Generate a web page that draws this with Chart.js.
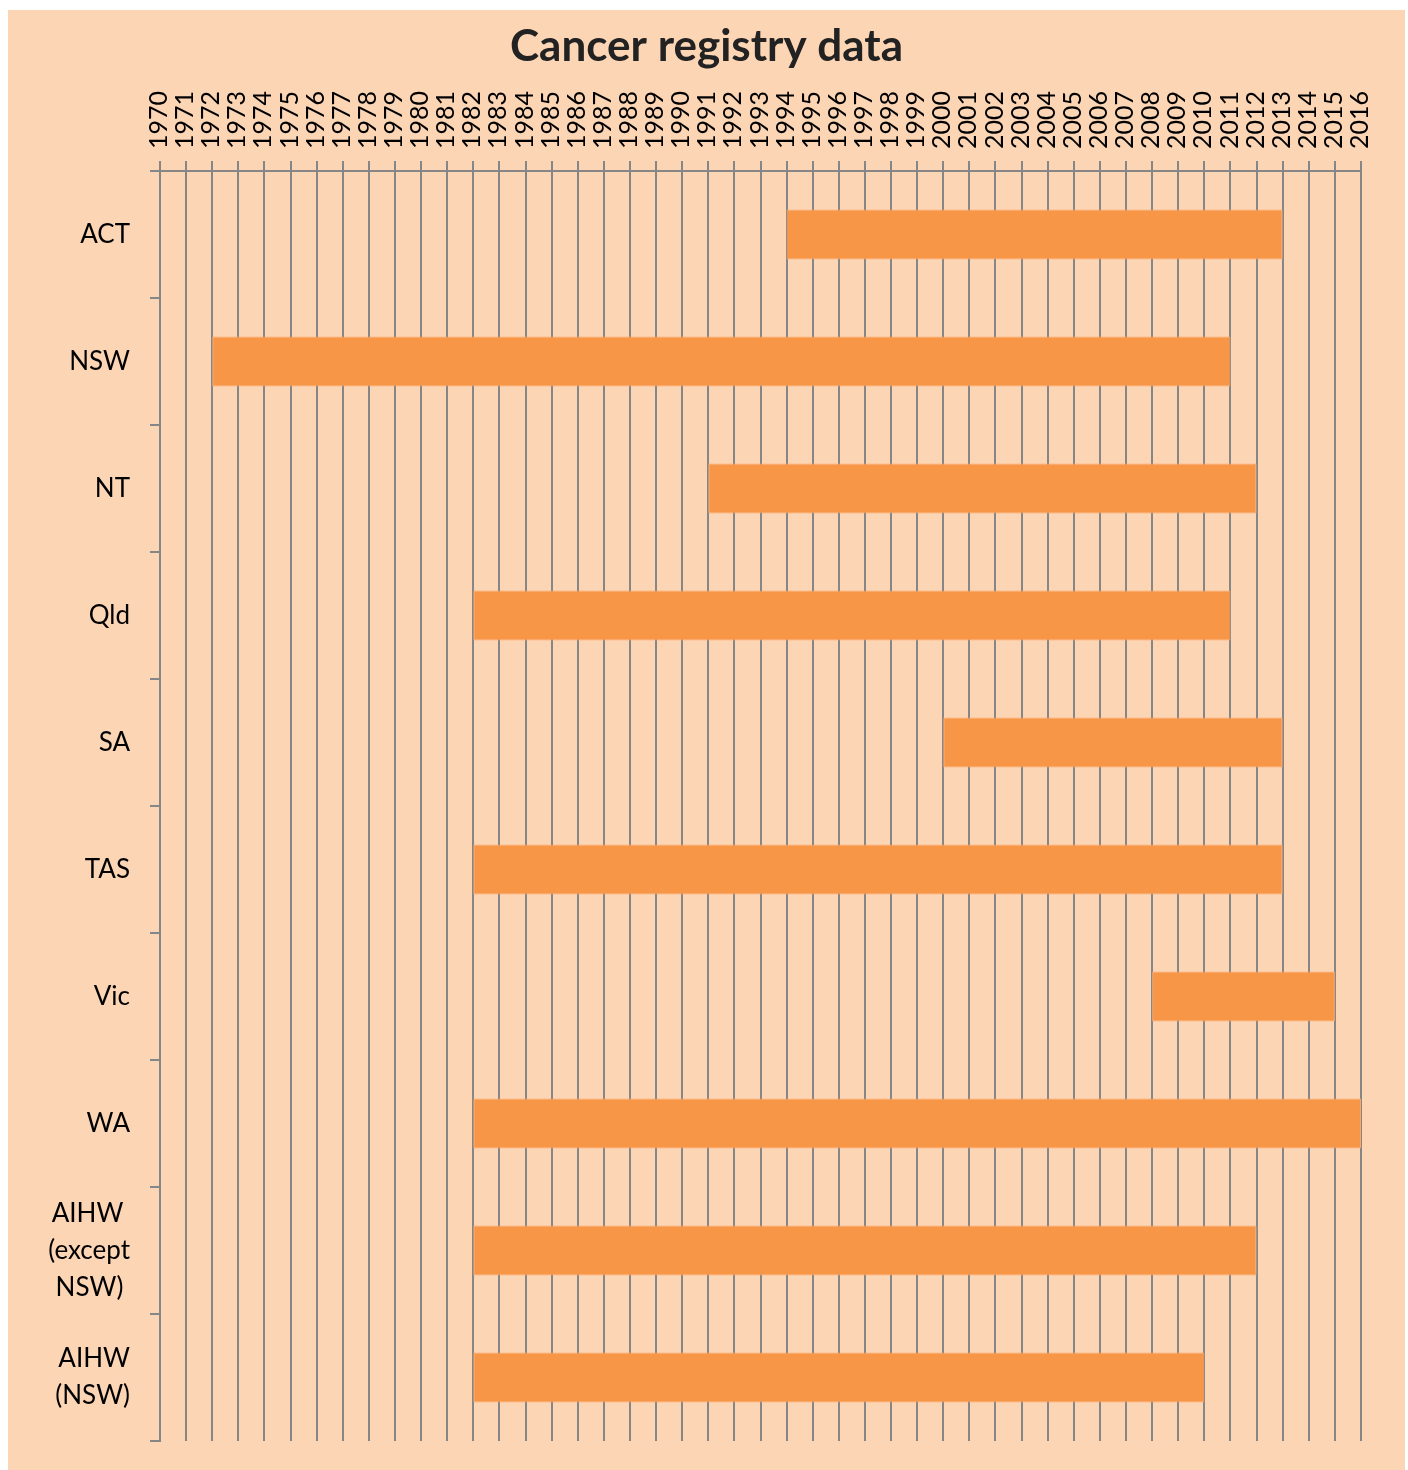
<!DOCTYPE html>
<html>
<head>
<meta charset="utf-8">
<script src="https://cdn.jsdelivr.net/npm/chart.js@4.4.1/dist/chart.umd.min.js"></script>
<style>
  body { margin: 0; background: #fff; }
  #wrap { position: absolute; left: 8px; top: 10px; width: 1397px; height: 1460px; background: #FCD5B5; }
</style>
</head>
<body>
<div id="wrap"><canvas id="registryChart"></canvas></div>
<script>
// data
const registries = ['ACT', 'NSW', 'NT', 'Qld', 'SA', 'TAS', 'Vic', 'WA', 'AIHW (except NSW)', 'AIHW (NSW)'];
const startYears = [1994, 1972, 1991, 1982, 2000, 1982, 2008, 1982, 1982, 1982];
const endYears = [2013, 2011, 2012, 2011, 2013, 2013, 2015, 2016, 2012, 2010];
const yearMin = 1970, yearMax = 2016;

const gridColor = '#868686';
const yFont = { family: 'Lato', size: 26, lineHeight: 1.42 };
const xFont = { family: 'Lato', size: 25, lineHeight: 1 };

// multi-line labels, lines centred inside a right-aligned block
const measure = document.createElement('canvas').getContext('2d');
measure.font = '26px Lato';
function splitLabel(name) {
  const lines = {
    'AIHW (except NSW)': ['AIHW', '(except', 'NSW)'],
    'AIHW (NSW)': ['AIHW', '(NSW)']
  }[name];
  if (!lines) return name;
  const widths = lines.map(l => measure.measureText(l).width);
  const maxW = Math.max(...widths);
  const spaceW = measure.measureText(' ').width;
  return lines.map((l, i) => l + ' '.repeat(Math.round((maxW - widths[i]) / 2 / spaceW)));
}

const ranges = startYears.map((s, i) => [s, endYears[i]]);

const ctx = document.getElementById('registryChart').getContext('2d');
new Chart(ctx, {
  type: 'bar',
  data: {
    labels: registries.map(splitLabel),
    datasets: [{
      data: ranges,
      backgroundColor: '#F79646',
      borderColor: '#FAA66A',
      borderWidth: 1,
      borderSkipped: false,
      barPercentage: 0.394,
      categoryPercentage: 1
    }]
  },
  options: {
    indexAxis: 'y',
    responsive: true,
    maintainAspectRatio: false,
    animation: false,
    layout: { padding: { left: 0, right: 0, top: 0, bottom: 29 } },
    plugins: {
      legend: { display: false },
      tooltip: { enabled: false },
      title: {
        display: true,
        text: 'Cancer registry data',
        color: '#222',
        font: { family: 'Lato', size: 44, weight: 'bold', lineHeight: 1.2 },
        padding: { top: 10, bottom: 0 }
      }
    },
    scales: {
      x: {
        position: 'top',
        min: yearMin,
        max: yearMax,
        afterFit: s => { s.height = 98.2; s.paddingLeft = 0; s.paddingRight = 44; },
        ticks: {
          stepSize: 1,
          autoSkip: false,
          minRotation: 90,
          maxRotation: 90,
          padding: 12,
          labelOffset: 24,
          color: '#000',
          font: xFont,
          callback: v => String(v)
        },
        grid: { color: gridColor, lineWidth: 2, tickLength: 10 },
        border: { color: gridColor, width: 2 }
      },
      y: {
        afterFit: s => { s.width = 152; s.paddingTop = 0; s.paddingBottom = 0; },
        ticks: { color: '#000', font: yFont, padding: 20 },
        grid: { offset: true, drawOnChartArea: false, color: gridColor, lineWidth: 2, tickLength: 10 },
        border: { color: gridColor, width: 2 }
      }
    }
  }
});
</script>
</body>
</html>
